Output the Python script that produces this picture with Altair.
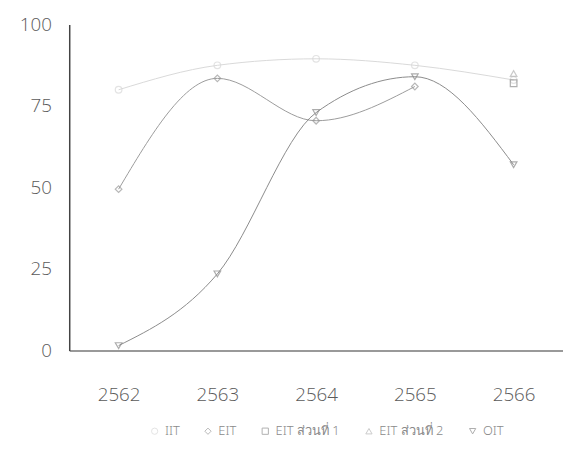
import altair as alt
import pandas as pd

years = ["2562", "2563", "2564", "2565", "2566"]
series = ["IIT", "EIT", "EIT ส่วนที่ 1", "EIT ส่วนที่ 2", "OIT"]
iit = [80, 87.5, 89.5, 87.5, 83]
eit = [49.5, 83.5, 70.5, 81, None]
eit1 = [None, None, None, None, 82]
eit2 = [None, None, None, None, 85]
oit = [1.5, 23.5, 73, 84, 57]

colors = ["#d8d8d8", "#9a9a9a", "#8f8f8f", "#b5b5b5", "#8a8a8a"]
shapes = ["circle", "diamond", "square", "triangle-up", "triangle-down"]

rows = []
for name, vals in zip(series, [iit, eit, eit1, eit2, oit]):
    for y, v in zip(years, vals):
        if v is not None:
            rows.append({"year": y, "series": name, "value": v})
df = pd.DataFrame(rows)

font = "Open Sans"
x = alt.X("year:O", sort=years, title=None,
          scale=alt.Scale(type="point", padding=0.5),
          axis=alt.Axis(labelAngle=0, labelFontSize=19, labelColor="#5a5a5a",
                        labelFont=font, labelFontWeight=300, ticks=False,
                        domainColor="#777", domainWidth=1.5, labelPadding=36,
                        grid=False))
y = alt.Y("value:Q", title=None,
          scale=alt.Scale(domain=[0, 100]),
          axis=alt.Axis(values=[0, 25, 50, 75, 100], labelFontSize=19,
                        labelColor="#5a5a5a", labelFont=font, labelFontWeight=300,
                        ticks=False, domainColor="#444", domainWidth=1.5,
                        grid=False, labelPadding=18))
legend = alt.Legend(title=None, orient="none", direction="horizontal",
                    legendX=80, legendY=405, labelFontSize=13,
                    labelColor="#8a8a8a", labelFont="Noto Sans",
                    labelFontWeight=300, symbolSize=40, columnPadding=22,
                    symbolStrokeWidth=1)
color = alt.Color("series:N", sort=series,
                  scale=alt.Scale(domain=series, range=colors), legend=legend)
shape = alt.Shape("series:N", sort=series,
                  scale=alt.Scale(domain=series, range=shapes), legend=legend)

base = alt.Chart(df)
lines = base.mark_line(interpolate="monotone", strokeWidth=1).encode(
    x=x, y=y, color=color, detail="series:N")
points = base.mark_point(filled=False, size=45, strokeWidth=1.2).encode(
    x=x, y=y, color=color, shape=shape)

chart = (lines + points).properties(
    width=500, height=330,
    autosize=alt.AutoSizeParams(type="none"),
    padding={"left": 62, "top": 14, "right": 0, "bottom": 100},
    background="white",
).configure_view(strokeWidth=0, stroke=None)

chart.save("out.html", embed_options={"renderer": "svg", "actions": False})
